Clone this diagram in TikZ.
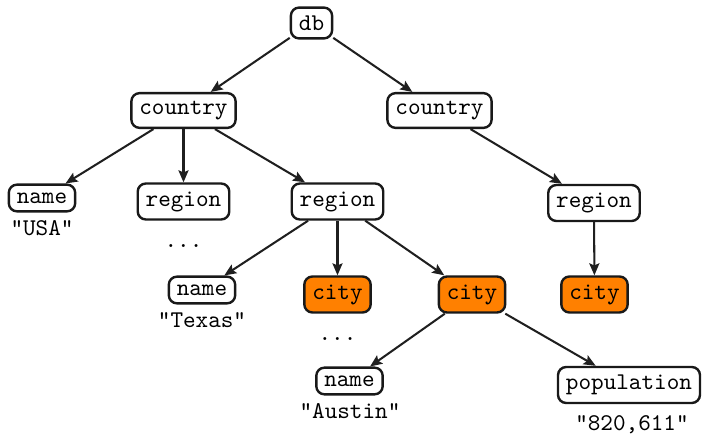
\documentclass[tikz,border=0pt]{standalone}
\usetikzlibrary{arrows.meta}
\begin{document}
\begin{tikzpicture}[x=0.41667pt,y=-0.41667pt,
  field/.style={draw=black!90,line width=1pt,rounded corners=3.4pt,
    fill=white,font=\ttfamily,inner sep=3.33pt},
  hit/.style={field,fill=orange},
  val/.style={font=\ttfamily,anchor=base,inner sep=0pt},
  link/.style={draw=black!88,line width=0.85pt,
    -{Stealth[length=5pt,width=4.2pt,inset=0.9pt]}}]
\useasboundingbox (0,0) rectangle (703,434);

% tree nodes
\node[field] (db)  at (311.5,23)  {db};
\node[field] (c1)  at (183.5,110.5) {country};
\node[field] (c2)  at (439.5,110.5) {country};
\node[field] (n1)  at (42,198)    {name};
\node[field] (r1)  at (183.5,201.5) {region};
\node[field] (r2)  at (337.5,201.5) {region};
\node[field] (r3)  at (594,203)   {region};
\node[field] (n2)  at (202,290)   {name};
\node[hit]   (ct1) at (337.5,294.5) {city};
\node[hit]   (ct2) at (472,294.5) {city};
\node[hit]   (ct3) at (594.5,294.5) {city};
\node[field] (n3)  at (349.5,381) {name};
\node[field] (pop) at (629,385)   {population};

% values and elisions
\node[val] (v1) at (42,236)  {"USA"};
\node[val] (d1) at (183.5,247) {...};
\node[val] (v2) at (202,328) {"Texas"};
\node[val] (d2) at (337.5,341) {...};
\node[val] (v3) at (350,419) {"Austin"};
\node[val] (v4) at (632,431) {"820,611"};

% edges
\draw[link] (db) -- (c1);
\draw[link] (db) -- (c2);
\draw[link] (c1) -- (n1);
\draw[link] (c1) -- (r1);
\draw[link] (c1) -- (r2);
\draw[link] (r2) -- (n2);
\draw[link] (r2) -- (ct1);
\draw[link] (r2) -- (ct2);
\draw[link] (ct2) -- (n3);
\draw[link] (ct2) -- (pop);
\draw[link] (c2) -- (r3);
\draw[link] (r3) -- (ct3);
\end{tikzpicture}
\end{document}
